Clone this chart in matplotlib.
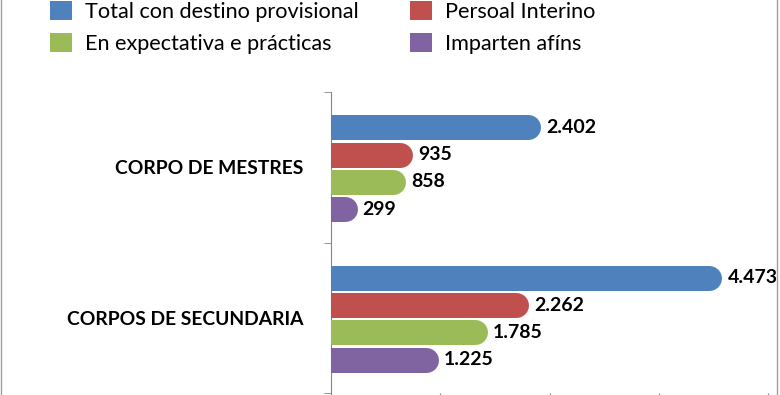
import matplotlib
matplotlib.use("Agg")
import matplotlib.pyplot as plt
from matplotlib.patches import Patch
from matplotlib.lines import Line2D

# data
categories = ["CORPO DE MESTRES", "CORPOS DE SECUNDARIA"]
series = ["Total con destino provisional", "Persoal Interino",
          "En expectativa e prácticas", "Imparten afíns"]
total_provisional = [2402, 4473]
persoal_interino = [935, 2262]
expectativa_practicas = [858, 1785]
imparten_afins = [299, 1225]
value_labels = [["2.402", "4.473"], ["935", "2.262"], ["858", "1.785"], ["299", "1.225"]]

colors = ["#4F81BD", "#C0504D", "#9BBB59", "#8064A2"]
FONT = "Lato"

plt.rcParams["font.family"] = [FONT, "DejaVu Sans"]

fig = plt.figure(figsize=(7.8, 3.95), dpi=100)
ax = fig.add_axes([331 / 780, 1 - 393 / 395, (768 - 331) / 780, (393 - 92) / 395])
ax.set_xlim(0, 5000)
ax.set_ylim(1.5, -0.5)

# radius of the round bar end, converted to data units
bar_px = 25
px_per_unit = ax.transData.transform((1000, 0))[0] - ax.transData.transform((0, 0))[0]
r_data = (bar_px / 2) / px_per_unit * 1000

all_values = [total_provisional, persoal_interino, expectativa_practicas, imparten_afins]
offsets = [-0.265, -0.083, 0.098, 0.28]
for vals, labels, col, off in zip(all_values, value_labels, colors, offsets):
    for ci, v in enumerate(vals):
        y = ci + off
        ax.plot([0, v - r_data], [y, y], color=col, linewidth=bar_px * 72 / 100,
                solid_capstyle="round", zorder=3)
        ax.annotate(labels[ci], xy=(v, y), xytext=(4, 0), textcoords="offset points",
                    ha="left", va="center", fontsize=14, fontweight="bold", color="black")

ax.set_yticks(range(len(categories)))
ax.set_yticklabels(categories, fontsize=13.9, fontweight="bold")
ax.set_yticks([-0.5, 0.5, 1.5], minor=True)
ax.tick_params(axis="y", which="major", length=0, pad=20)
ax.tick_params(axis="y", which="minor", length=5, direction="out", color="#868686")

ax.set_xticks([0, 1250, 2500, 3750, 5000])
ax.tick_params(axis="x", length=3, direction="out", color="#868686", labelbottom=False)

for side in ["top", "right", "bottom"]:
    ax.spines[side].set_visible(False)
ax.spines["left"].set_color("#868686")

handles = [Patch(facecolor=c, edgecolor="none") for c in colors]
order = [0, 2, 1, 3]
fig.legend([handles[i] for i in order], [series[i] for i in order], ncol=2,
           loc="upper left", bbox_to_anchor=(50 / 780, 1 - 1 / 395),
           frameon=False, fontsize=15.6, handlelength=1.0, handleheight=1.0,
           handletextpad=0.6, columnspacing=2.4, labelspacing=0.5,
           borderpad=0, borderaxespad=0)

# thin frame lines at the image edges
fig.add_artist(Line2D([0.5 / 780, 0.5 / 780], [0, 1], color="#A0A0A0", linewidth=1))
fig.add_artist(Line2D([776.5 / 780, 776.5 / 780], [0, 1], color="#A0A0A0", linewidth=1))

fig.savefig("out.png", dpi=100)
